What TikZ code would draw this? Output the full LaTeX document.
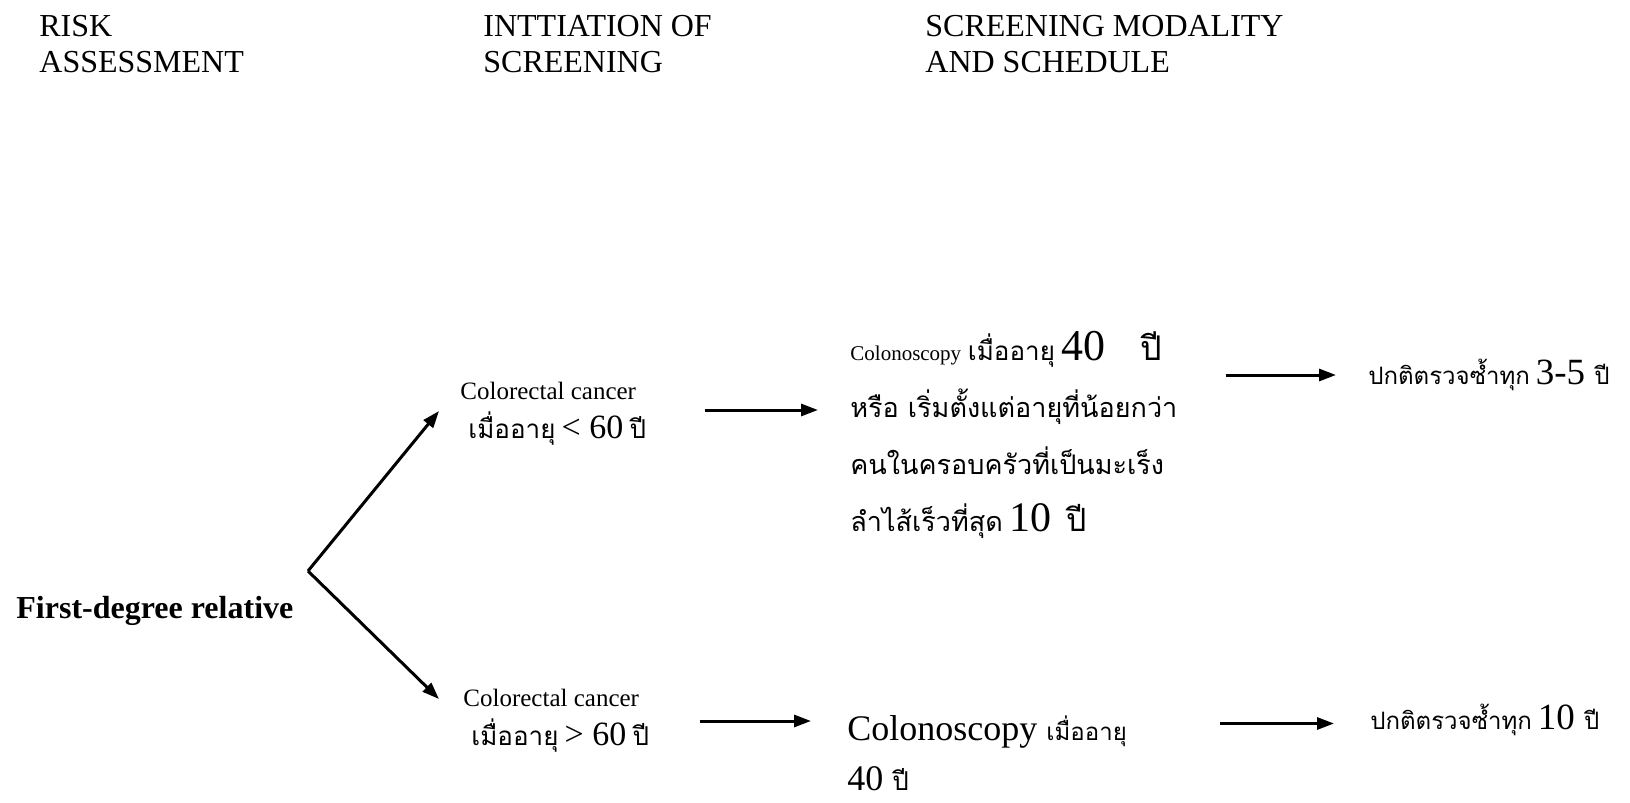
\documentclass[tikz,border=0pt]{standalone}
\usepackage{fontspec}
\setmainfont{Liberation Serif}
\newfontfamily\thaifont[Script=Thai]{Loma}
\usetikzlibrary{arrows.meta}

\newcommand{\thtxt}[1]{{\thaifont #1}}
\newcommand{\fs}[1]{\fontsize{#1}{#1}\selectfont}

\tikzset{
  head/.style={anchor=west, align=left, inner sep=0pt, font=\fontsize{16}{18}\selectfont},
  cond/.style={anchor=west, align=left, inner sep=0pt, font=\fontsize{12.5}{19.5}\selectfont},
  plan/.style={anchor=west, align=left, inner sep=0pt},
  arr/.style={line width=1.5pt, -{Triangle[length=8.5pt,width=6pt]}},
}

\begin{document}
\begin{tikzpicture}[x=0.5pt, y=-0.5pt]
\useasboundingbox (0,0) rectangle (1630,803);

% column titles
\node[head] (hrisk) at (39,44) {RISK\\ASSESSMENT};
\node[head] (hinit) at (483,44) {INTTIATION OF\\SCREENING};
\node[head] (hmode) at (925,44) {SCREENING MODALITY\\AND SCHEDULE};

\node[anchor=west, inner sep=0pt, font=\bfseries\fontsize{16}{18}\selectfont] (fdr) at (16,611) {First-degree relative};
\coordinate (split) at (308,571);

% age at diagnosis
\node[cond] (cond1) at (460,414) {Colorectal cancer\\ \hspace*{4pt}\thtxt{\fs{13}เมื่ออายุ} {\fs{17}< 60} \thtxt{\fs{13}ปี}};
\node[cond] (cond2) at (463,721) {Colorectal cancer\\ \hspace*{4pt}\thtxt{\fs{13}เมื่ออายุ} {\fs{17}> 60} \thtxt{\fs{13}ปี}};

% colonoscopy plans
\node[plan, font=\fontsize{13.5}{28.5}\selectfont] (blk1) at (850,435)
  {{\fs{10.5}Colonoscopy} \thtxt{\fs{13}เมื่ออายุ} {\fs{22}40 }\hspace{12pt}\thtxt{\fs{17}ปี}\\
   \thtxt{หรือ เริ่มตั้งแต่อายุที่น้อยกว่า}\\
   \thtxt{คนในครอบครัวที่เป็นมะเร็ง}\\
   \thtxt{ลำไส้เร็วที่สุด} {\fs{21}10 }\hspace{2pt}\thtxt{\fs{16}ปี}};
\node[plan, font=\fontsize{18}{25}\selectfont] (blk2) at (847,753)
  {Colonoscopy \thtxt{\fs{12}เมื่ออายุ}\\
   40 \thtxt{\fs{13}ปี}};

% follow-up
\node[plan, font=\fontsize{12}{16}\selectfont] (res1) at (1368,375) {\thtxt{ปกติตรวจซ้ำทุก} {\fs{18.5}3-5 }\thtxt{ปี}};
\node[plan, font=\fontsize{12}{16}\selectfont] (res2) at (1370,720) {\thtxt{ปกติตรวจซ้ำทุก} {\fs{18.5}10 }\thtxt{ปี}};

\draw[arr] (split) -- ([shift={(-21,-3)}]cond1.west);
\draw[arr] (split) -- ([shift={(-24,-22)}]cond2.west);
\draw[arr, shorten <=29pt, shorten >=16pt] ([yshift=2pt]cond1.east) -- ([yshift=2pt]cond1.east -| blk1.west);
\draw[arr, shorten <=25pt, shorten >=18pt] (cond2.east) -- (cond2.east -| blk2.west);
\draw[arr, shorten <=24pt, shorten >=16pt] (blk1.east |- res1.west) -- (res1.west);
\draw[arr, shorten <=46.5pt, shorten >=18pt] ([yshift=-1.75pt]blk2.east |- res2.west) -- ([yshift=-1.75pt]res2.west);
\end{tikzpicture}
\end{document}
